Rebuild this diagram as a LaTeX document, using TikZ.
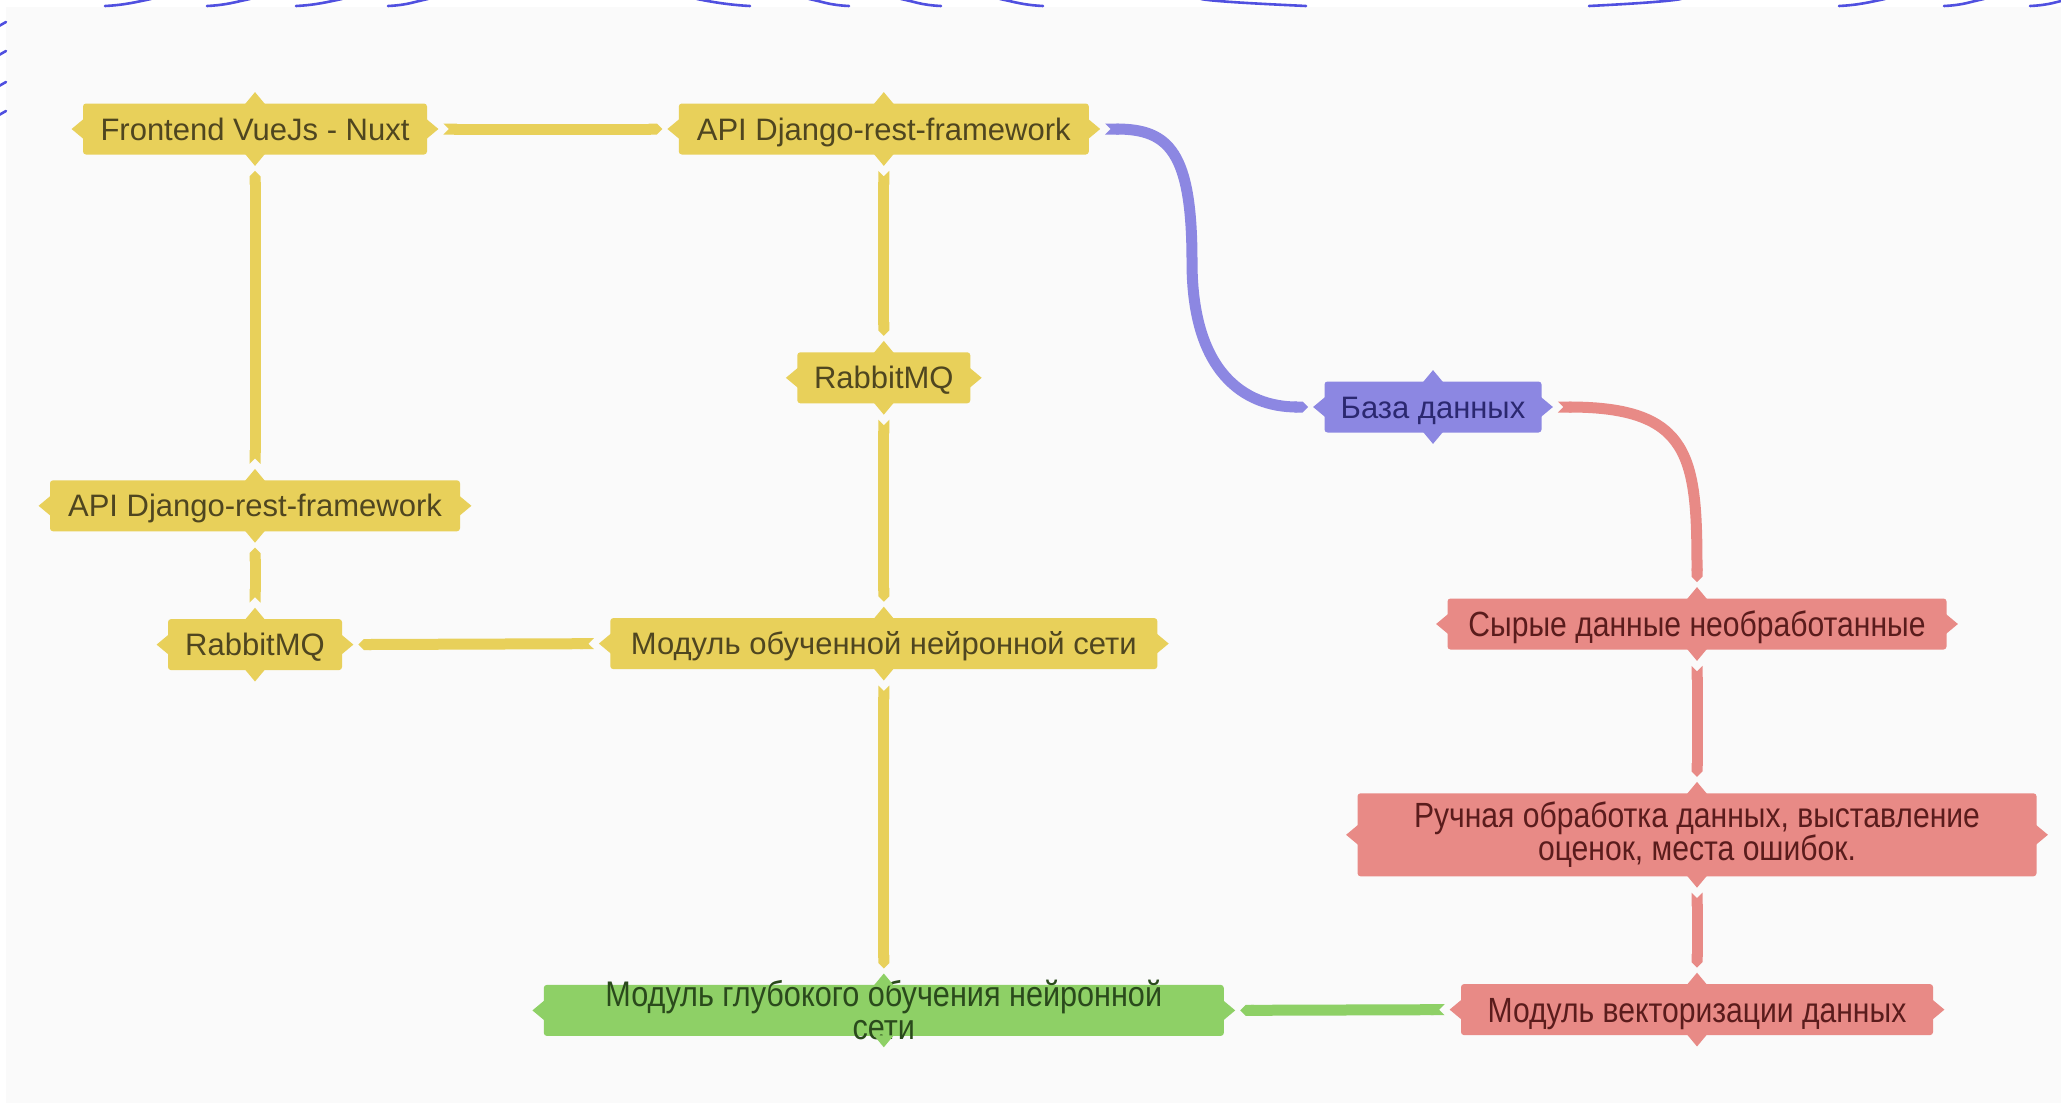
\documentclass[tikz,border=0pt]{standalone}
\usepackage{fontspec}
\setmainfont{Liberation Sans}
\newfontfamily\narrowfont[FakeStretch=0.86]{Liberation Sans}
\usepackage{tikz}
\usetikzlibrary{arrows.meta,positioning,calc}

\definecolor{ylw}{HTML}{E8D05A}
\definecolor{ylwtext}{HTML}{4F4620}
\definecolor{prp}{HTML}{8C87E2}
\definecolor{prptext}{HTML}{2B2870}
\definecolor{rd}{HTML}{E88A86}
\definecolor{rdtext}{HTML}{5A1C1C}
\definecolor{grn}{HTML}{8ED066}
\definecolor{grntext}{HTML}{2A4A1C}
\definecolor{paper}{HTML}{FAFAFA}
\definecolor{squig}{HTML}{5050E0}

%% four little points round a box
\newcommand{\tabs}[2]{%
  \fill[#2] ($(#1.north)+(-10,1)$) -- ($(#1.north)+(0,-11)$) -- ($(#1.north)+(10,1)$) -- cycle;
  \fill[#2] ($(#1.south)+(-10,-1)$) -- ($(#1.south)+(0,11)$) -- ($(#1.south)+(10,-1)$) -- cycle;
  \fill[#2] ($(#1.east)+(-1,-10)$) -- ($(#1.east)+(11,0)$) -- ($(#1.east)+(-1,10)$) -- cycle;
  \fill[#2] ($(#1.west)+(1,-10)$) -- ($(#1.west)+(-11,0)$) -- ($(#1.west)+(1,10)$) -- cycle;
}

\begin{document}
\begin{tikzpicture}[x=0.5pt,y=-0.5pt,
    box/.style={rectangle, rounded corners=1.5pt, inner sep=0pt, minimum height=25.5pt,
      text height=11pt, text depth=0pt, font=\fontsize{15.5}{16.5}\selectfont},
    ybox/.style={box, fill=ylw, text=ylwtext},
    pbox/.style={box, fill=prp, text=prptext},
    rbox/.style={box, fill=rd, text=rdtext, text height=12.5pt,
      font=\narrowfont\fontsize{17.5}{16.5}\selectfont},
    gbox/.style={box, fill=grn, text=grntext, font=\narrowfont\fontsize{17.8}{16.5}\selectfont},
    link/.style={line width=5.5pt, shorten <=8pt, shorten >=8pt,
      arrows={Triangle Cap[reversed]-Triangle Cap}},
    squigline/.style={squig, line width=1.3pt, line cap=round}]

        \useasboundingbox (0,0) rectangle (2061,1103);
        \fill[white] (0,0) rectangle (2061,1103);
        \fill[paper] (6,7) rectangle (2061,1103);

        %% scribbles on the edge of the page
        \foreach \a/\b in {105/151, 207/250, 296/342, 388/428, 1589/1681, 1839/1885, 1944/1984, 2030/2070}
          \draw[squigline] (\a,6) .. controls (\a+20,5) and (\b-15,2) .. (\b,-1);
        \foreach \a/\b in {697/750, 809/849, 901/941, 1000/1043, 1201/1306}
          \draw[squigline] (\a,-1) .. controls (\a+15,2) and (\b-20,5) .. (\b,6);
        \foreach \y in {23,52,83,112}
          \draw[squigline] (-1,\y+3) -- (6,\y-1);

        \node (front) [ybox, minimum width=172pt] at (255,129) {Frontend VueJs - Nuxt};
        \node (api) [ybox, minimum width=205pt, right=125.5pt of front] {API Django-rest-framework};
        \node (rabbit) [ybox, minimum width=86.5pt, below=98.5pt of api] {RabbitMQ};
        \node (trained) [ybox, minimum width=273.5pt, below=107pt of rabbit] {Модуль обученной нейронной сети};
        \node (deep) [gbox, minimum width=340pt, below=157.5pt of trained] {};
        \node (deeptext) [gbox, fill=none, text height=, text depth=, align=center] at (deep)
          {Модуль глубокого обучения нейронной\\сети};

        \node (api2) [ybox, minimum width=205pt, below=162.5pt of front] {API Django-rest-framework};
        \node (rabbit2) [ybox, minimum width=87pt, below=43.5pt of api2] {RabbitMQ};

        \node (db) [pbox, minimum width=108.5pt] at (1433,407) {База данных};
        \node (raw) [rbox, minimum width=249.5pt] at (1697,624) {Сырые данные необработанные};
        \node (manual) [rbox, minimum width=339.5pt, minimum height=41.5pt, text height=, text depth=,
          below=71.5pt of raw, align=center]
          {Ручная обработка данных, выставление\\оценок, места ошибок.};
        \node (vector) [rbox, minimum width=236pt, below=53.5pt of manual] {Модуль векторизации данных};

        \foreach \n in {front, api, rabbit, trained, api2, rabbit2} {\tabs{\n}{ylw}}
        \tabs{db}{prp}
        \foreach \n in {raw, manual, vector} {\tabs{\n}{rd}}
        \tabs{deep}{grn}

        \coordinate (bend) at (1192,262);

        \draw[link, ylw] (front.east) -- (api.west);
        \draw[link, ylw] (api2.north) -- (front.south);
        \draw[link, ylw] (rabbit2.north) -- (api2.south);
        \draw[link, ylw] (api.south) -- (rabbit.north);
        \draw[link, ylw] (rabbit.south) -- (trained.north);
        \draw[link, ylw] (trained.west) -- (rabbit2.east);
        \draw[link, ylw] (trained.south) -- (deep.north);
        \draw[link, grn] (vector.west) -- (deep.east);
        \draw[link, prp] (api.east) .. controls +(80,0) and +(0,-110) .. (bend)
          .. controls +(0,110) and +(-80,0) .. (db.west);
        \draw[link, rd] (db.east) .. controls +(150,0) and +(0,-140) .. (raw.north);
        \draw[link, rd] (raw.south) -- (manual.north);
        \draw[link, rd] (manual.south) -- (vector.north);

\end{tikzpicture}
\end{document}
